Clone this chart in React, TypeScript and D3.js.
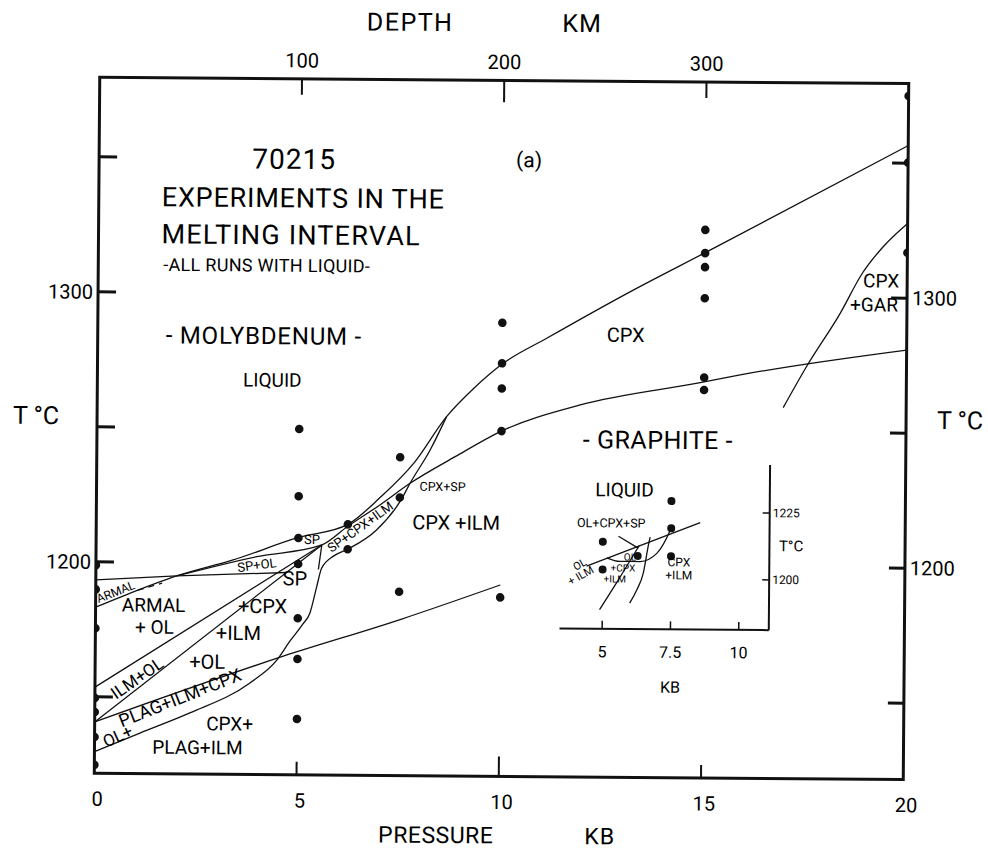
import React from "react";
import * as d3 from "d3";

type Pt = [number, number];

// pressure (kb) / temperature (°C)
const pressureTicks = [5, 10, 15];
const pressureLabels = [0, 5, 10, 15, 20];
const depthTicks = [100, 200, 300];
const tempTicks = [1150, 1200, 1250, 1300, 1350];
const tempLabels = [1200, 1300];

const runs: Pt[] = [
  [0, 1198.8], [0, 1189.8], [0, 1175.4], [0, 1149.6], [0, 1144.4], [0, 1135.1], [0, 1124.8],
  [5, 1249.8], [5, 1224.9], [5, 1209.4], [5, 1199.8], [5, 1179.7], [5, 1164.6], [5, 1142.4],
  [6.22, 1214.6], [6.22, 1205.4],
  [7.5, 1239.6], [7.5, 1224.7], [7.5, 1189.8],
  [10, 1289.7], [10, 1274.7], [10, 1265.4], [10, 1249.6], [10, 1188.0],
  [15, 1324.7], [15, 1316.1], [15, 1310.9], [15, 1299.4], [15, 1270.0], [15, 1265.4],
  [20, 1374.9], [20, 1350.2], [20, 1316.8],
];

const liquidus: Pt[] = [
  [0, 1183.2], [0.675, 1187.4], [2.0, 1195.0], [3.39, 1201.1], [5.0, 1209.6], [6.22, 1214.6],
  [7.03, 1224.9], [7.84, 1237.5], [8.64, 1254.8], [9.29, 1265.1], [10.03, 1274.7],
  [11.1, 1284.1], [13.23, 1302.2], [14.98, 1316.1], [20, 1356.5],
];

const sCurve: Pt[] = [
  [0, 1129.7], [1.12, 1136.7], [2.35, 1144.3], [3.83, 1155.6], [4.49, 1164.1], [4.81, 1171.2],
  [5.13, 1177.6], [5.3, 1181.7], [5.46, 1191.3], [5.58, 1198.3], [5.88, 1202.9], [6.22, 1205.4],
  [6.93, 1212.6], [7.53, 1223.8], [7.75, 1230.0], [8.24, 1242.4], [8.64, 1254.8],
];

const spBoundary: Pt[] = [
  [2.0, 1195.0], [3.98, 1202.4], [5.58, 1206.9], [6.22, 1213.9], [7.01, 1221.9], [7.75, 1230.0],
  [8.86, 1240.0], [10.0, 1249.6], [11.94, 1259.5], [14.97, 1268.3], [15.89, 1271.1], [20, 1280.8],
];

const armalLine: Pt[] = [[0, 1193.3], [2.0, 1195.0], [4.72, 1196.6]];
const ilmOlUpper: Pt[] = [[0, 1153.6], [5.58, 1206.9]];
const ilmOlLower: Pt[] = [[0, 1140.7], [5.58, 1206.9]];
const tieLine: Pt[] = [[5.58, 1206.9], [5.5, 1197.8]];
const plagLine: Pt[] = [[0, 1140.7], [4.65, 1165.6], [7.57, 1179.7], [10, 1192.6]];
const garnetCurve: Pt[] = [
  [16.96, 1259.1], [17.53, 1274.4], [18.35, 1294.2], [18.89, 1309.1], [19.4, 1319.0], [20, 1327.7],
];
const armalDash: Pt[] = [[1.04, 1189.6], [1.64, 1192.3]];

// graphite inset
const insetPressureTicks = [5, 7.5, 10];
const insetTempTicks = [1200, 1225];
const insetRuns: Pt[] = [
  [7.5, 1229.2], [7.5, 1219.0], [5, 1213.8], [6.28, 1208.6], [7.5, 1208.6], [5, 1203.4],
];
const insetSolidus: Pt[] = [[4.41, 1204.6], [8.56, 1221.2]];
const insetBowl: Pt[] = [[5.15, 1207.8], [5.63, 1206.5], [6.37, 1206.5], [6.98, 1209.6], [7.47, 1218.4], [7.52, 1219.6]];
const insetCpx: Pt[] = [[6.0, 1190.9], [6.26, 1195.9], [6.49, 1202.2], [6.67, 1212.7], [6.73, 1215.7]];
const insetIlm: Pt[] = [[4.9, 1188.4], [5.58, 1199.6], [6.34, 1212.6]];
const insetPointer: Pt[] = [[5.57, 1215.9], [6.3, 1211.5]];

const x = d3.scaleLinear().domain([0, 20]).range([97, 906]);
const y = d3.scaleLinear().domain([1200, 1300]).range([565, 295]);
const depth = d3.scaleLinear().domain([0, 400]).range([97, 906]);
const topT = 1379.5;
const bottomT = 1121.7;

const ix = d3.scaleLinear().domain([5, 10]).range([603.7, 740.3]);
const iy = d3.scaleLinear().domain([1200, 1225]).range([577.8, 511]);

const curve = d3.line<Pt>().x((d) => x(d[0])).y((d) => y(d[1])).curve(d3.curveMonotoneX);
const straight = d3.line<Pt>().x((d) => x(d[0])).y((d) => y(d[1]));
const insetCurve = d3.line<Pt>().x((d) => ix(d[0])).y((d) => iy(d[1])).curve(d3.curveMonotoneX);
const insetStraight = d3.line<Pt>().x((d) => ix(d[0])).y((d) => iy(d[1]));

const FONT = "Roboto, 'DejaVu Sans', sans-serif";

const T: React.FC<{
  x: number; y: number; size: number; anchor?: "start" | "middle" | "end"; rot?: number; ls?: number;
  children: React.ReactNode;
}> = ({ x, y, size, anchor = "middle", rot, ls, children }) => (
  <text
    x={x}
    y={y}
    fontSize={size}
    textAnchor={anchor}
    dominantBaseline="central"
    letterSpacing={ls}
    fill="#000"
    transform={rot ? `rotate(${rot},${x},${y})` : undefined}
  >
    {children}
  </text>
);

export default function App() {
  const left = x(0), right = x(20), top = y(topT), bottom = y(bottomT);
  const thin = { fill: "none", stroke: "#111", strokeWidth: 1.3 };

  return (
    <svg
      width={988}
      height={852}
      style={{ position: "absolute", left: 0, top: 0, background: "#fff" }}
      fontFamily={FONT}
      fontWeight={400}
    >
      <defs>
        <clipPath id="plotClip">
          <rect x={left} y={top} width={right - left} height={bottom - top} />
        </clipPath>
      </defs>
      <g transform="rotate(0.45,501,429)" fill="#111">
        {/* frame */}
        <rect x={left} y={top} width={right - left} height={bottom - top} fill="none" stroke="#111" strokeWidth={3} />

        {tempTicks.map((t) => (
          <g key={t}>
            <line x1={left} x2={left + 18} y1={y(t)} y2={y(t)} stroke="#111" strokeWidth={3} />
            <line x1={right - 16} x2={right} y1={y(t)} y2={y(t)} stroke="#111" strokeWidth={3} />
          </g>
        ))}
        {pressureTicks.map((p) => (
          <line key={p} x1={x(p)} x2={x(p)} y1={bottom} y2={bottom - (p === 10 ? 20 : 13)} stroke="#111" strokeWidth={2} />
        ))}
        {depthTicks.map((d) => (
          <line key={d} x1={depth(d)} x2={depth(d)} y1={top} y2={top + (d === 200 ? 22 : 16)} stroke="#111" strokeWidth={2} />
        ))}

        {/* axis text */}
        {pressureLabels.map((p) => (
          <T key={p} x={x(p) + 3} y={802} size={20}>{p}</T>
        ))}
        {depthTicks.map((d) => (
          <T key={d} x={depth(d)} y={62} size={20}>{d}</T>
        ))}
        {tempLabels.map((t) => (
          <g key={t}>
            <T x={92} y={y(t)} size={20} anchor="end">{t}</T>
            <T x={911} y={y(t)} size={20} anchor="start">{t}</T>
          </g>
        ))}
        <T x={407} y={23} size={25} ls={1.5}>DEPTH</T>
        <T x={579} y={23} size={25} ls={1}>KM</T>
        <T x={439} y={836} size={23} ls={0.5}>PRESSURE</T>
        <T x={603} y={836} size={23} ls={1}>KB</T>
        <T x={36} y={419} size={25}>T °C</T>
        <T x={960} y={417} size={25}>T °C</T>

        {/* phase boundaries */}
        <g {...thin}>
          <path d={curve(liquidus) ?? ""} />
          <path d={curve(sCurve) ?? ""} />
          <path d={curve(spBoundary) ?? ""} />
          <path d={straight(armalLine) ?? ""} />
          <path d={straight(ilmOlUpper) ?? ""} />
          <path d={straight(ilmOlLower) ?? ""} />
          <path d={straight(tieLine) ?? ""} />
          <path d={curve(plagLine) ?? ""} />
          <path d={curve(garnetCurve) ?? ""} />
          <path d={straight(armalDash) ?? ""} strokeDasharray="6,5" />
        </g>

        <g clipPath="url(#plotClip)">
          {runs.map((d, i) => (
            <circle key={i} cx={x(d[0])} cy={y(d[1])} r={4.3} />
          ))}
        </g>

        {/* titles */}
        <T x={292} y={161} size={28} ls={1}>70215</T>
        <T x={527} y={160} size={21}>(a)</T>
        <T x={160} y={200} size={27} anchor="start" ls={0.8}>EXPERIMENTS IN THE</T>
        <T x={160} y={237} size={27} anchor="start" ls={1.2}>MELTING INTERVAL</T>
        <T x={162} y={267} size={18} anchor="start" ls={0.3}>-ALL RUNS WITH LIQUID-</T>
        <T x={165} y={338} size={24} anchor="start" ls={0.8}>- MOLYBDENUM -</T>
        <T x={272} y={382} size={19}>LIQUID</T>
        <T x={625} y={334} size={20}>CPX</T>
        <T x={413} y={523} size={20} anchor="start">CPX +ILM</T>
        <T x={420} y={487} size={12.5} anchor="start">CPX+SP</T>
        <T x={880} y={278} size={19}>CPX</T>
        <T x={873} y={302} size={19}>+GAR</T>

        {/* low pressure field labels */}
        <T x={361} y={528} size={13} rot={-36}>SP+CPX+ILM</T>
        <T x={313} y={541} size={13}>SP</T>
        <T x={258} y={567} size={13} rot={-8}>SP+OL</T>
        <T x={117} y={595} size={12} rot={-22}>ARMAL</T>
        <T x={155} y={608} size={19}>ARMAL</T>
        <T x={156} y={630} size={19}>+ OL</T>
        <T x={296} y={580} size={20}>SP</T>
        <T x={264} y={608} size={20}>+CPX</T>
        <T x={240} y={635} size={20}>+ILM</T>
        <T x={209} y={664} size={20}>+OL</T>
        <T x={139} y={681} size={17} rot={-35}>ILM+OL</T>
        <T x={182} y={700} size={18} rot={-22}>PLAG+ILM+CPX</T>
        <T x={120} y={739} size={17} rot={-25}>OL+</T>
        <T x={232} y={726} size={19}>CPX+</T>
        <T x={200} y={750} size={19}>PLAG+ILM</T>

        {/* graphite inset */}
        <T x={658} y={439} size={25} ls={0.5}>- GRAPHITE -</T>
        <line x1={ix(3.44)} x2={ix(11.1)} y1={iy(1181.2)} y2={iy(1181.2)} stroke="#111" strokeWidth={2} />
        <line x1={ix(11.1)} x2={ix(11.1)} y1={iy(1181.2)} y2={iy(1243)} stroke="#111" strokeWidth={2} />
        {insetPressureTicks.map((p) => (
          <g key={p}>
            <line x1={ix(p)} x2={ix(p)} y1={iy(1181.2)} y2={iy(1181.2) - 8} stroke="#111" strokeWidth={1.5} />
            <T x={ix(p)} y={651} size={16}>{p}</T>
          </g>
        ))}
        {insetTempTicks.map((t) => (
          <g key={t}>
            <line x1={ix(11.1) - 7} x2={ix(11.1)} y1={iy(t)} y2={iy(t)} stroke="#111" strokeWidth={1.5} />
            <T x={ix(11.1) + 3} y={iy(t)} size={12} anchor="start">{t}</T>
          </g>
        ))}
        <T x={792} y={544} size={15}>T°C</T>
        <T x={672} y={686} size={16}>KB</T>
        <g {...thin}>
          <path d={insetStraight(insetSolidus) ?? ""} />
          <path d={insetCurve(insetBowl) ?? ""} />
          <path d={insetCurve(insetCpx) ?? ""} />
          <path d={insetCurve(insetIlm) ?? ""} />
          <path d={insetStraight(insetPointer) ?? ""} />
        </g>
        {insetRuns.map((d, i) => (
          <circle key={i} cx={ix(d[0])} cy={iy(d[1])} r={4} />
        ))}
        <T x={625} y={489} size={19}>LIQUID</T>
        <T x={612} y={522} size={12.5}>OL+CPX+SP</T>
        <T x={631} y={556} size={10}>OL</T>
        <T x={624} y={567} size={10}>+CPX</T>
        <T x={616} y={578} size={10}>+ILM</T>
        <T x={581} y={564} size={11} rot={-30}>OL</T>
        <T x={582} y={575} size={11} rot={-30}>+ ILM</T>
        <T x={680} y={561} size={12}>CPX</T>
        <T x={680} y={574} size={12}>+ILM</T>
      </g>
    </svg>
  );
}
